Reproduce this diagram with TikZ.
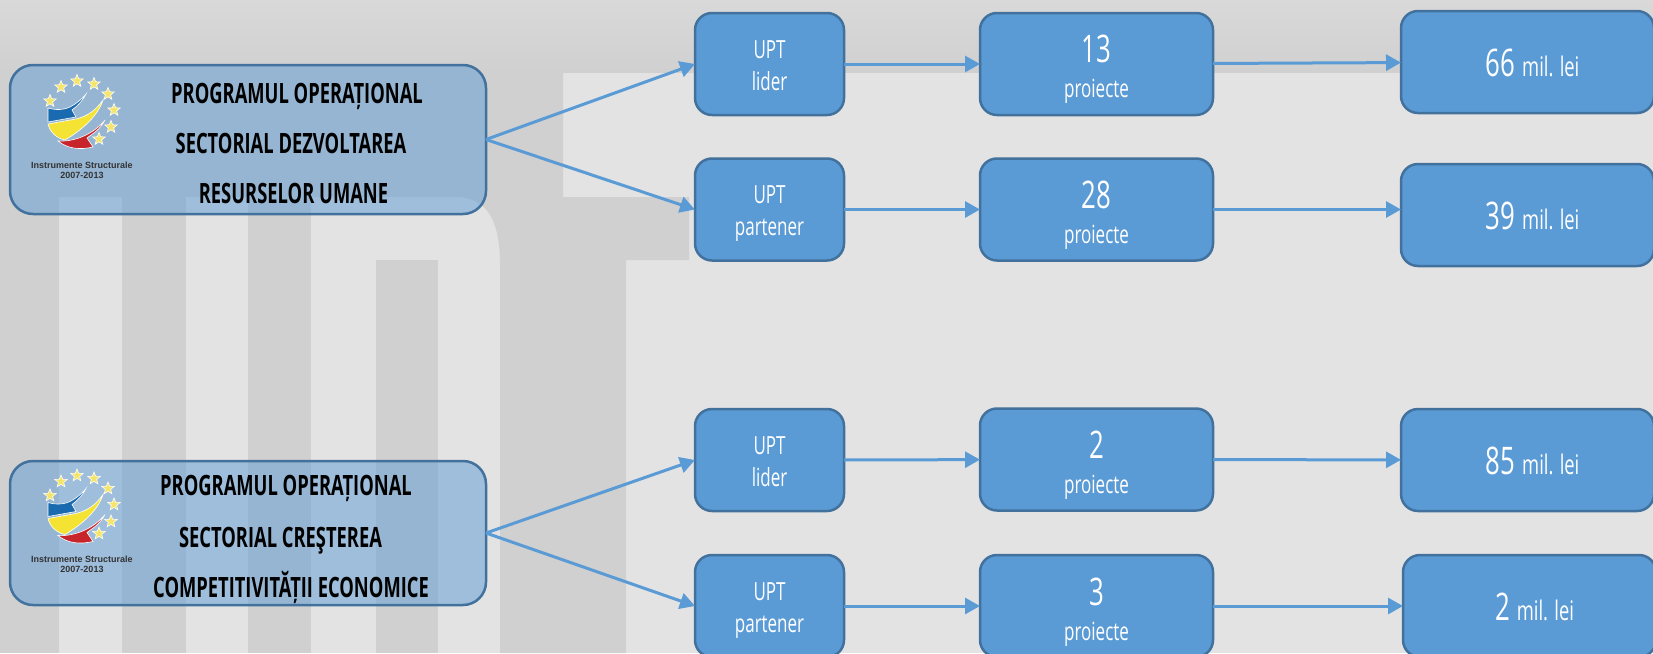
\documentclass[tikz,border=0pt]{standalone}
\usepackage{fontspec}
\setmainfont[FakeStretch=0.68]{Open Sans}
\newfontfamily\headfont[FakeStretch=0.655]{Open Sans}
\newfontfamily\logofont{Liberation Sans}
\usetikzlibrary{shapes.geometric,arrows.meta,positioning}

\definecolor{boxblue}{HTML}{5B9BD5}
\definecolor{boxline}{HTML}{41719C}
\definecolor{bglight}{HTML}{E3E3E3}
\definecolor{bgdark}{HTML}{D0D0D0}
\definecolor{logoblue}{HTML}{1A6AB0}
\definecolor{logoyellow}{HTML}{F4E333}
\definecolor{logored}{HTML}{C8242B}
\definecolor{logostarfill}{HTML}{F5E46A}

\newcommand{\upttext}[1]{\rule{0pt}{27pt}UPT\\#1\rule[-7pt]{0pt}{7pt}}
\newcommand{\nrtext}[1]{\rule{0pt}{39pt}{\fontsize{38}{38}\selectfont #1}\\proiecte}
\newcommand{\valtext}[1]{\rule{0pt}{29pt}\hspace*{10pt}{\fontsize{38}{38}\selectfont #1}\hspace{7pt}mil. lei}

\begin{document}
\begin{tikzpicture}[
    x=1pt, y=-1pt,
    node distance=136pt,
    program/.style={rectangle, draw=boxline, line width=2.5pt, fill=boxblue, fill opacity=0.5, text opacity=1, rounded corners=23pt, minimum width=476pt, outer sep=0pt},
    headline/.style={anchor=base, font=\headfont\bfseries\fontsize{28}{32}\selectfont, text=black, inner sep=0pt},
    upt/.style={rectangle, draw=boxline, line width=2.5pt, fill=boxblue, text=white, text centered, align=center, rounded corners=17pt, minimum width=149pt, minimum height=102pt, outer sep=0pt, font=\fontsize{25}{32}\selectfont},
    nr/.style={upt, minimum width=233pt, font=\fontsize{25}{35}\selectfont},
    val/.style={upt, minimum width=253pt, font=\fontsize{27}{32}\selectfont},
    arrow/.style={line width=3pt, draw=boxblue, ->, >={Triangle[length=15pt,width=16pt]}},
    logostar/.style={star, star points=5, star point ratio=2.3, minimum size=13pt, inner sep=0pt, fill=logostarfill, draw=white, line width=0.6pt},
    logo/.pic={
        % swooshes
        \fill[logoblue, draw=white, line width=0.6pt] (28,38) .. controls (38,41) and (46,39) .. (50,37) .. controls (56,34) and (62,29) .. (66,24) .. controls (62,32) and (56,37) .. (52,40) -- (56,47) -- (28,52) -- cycle;
        \fill[logoyellow, draw=white, line width=0.6pt] (28,54) -- (56,49) .. controls (68,46) and (76,40) .. (83,30) .. controls (78,46) and (62,60) .. (45,70) .. controls (36,68) and (30,62) .. (28,54) -- cycle;
        \fill[logored, draw=white, line width=0.6pt] (38,71) .. controls (52,72) and (72,66) .. (85,50) .. controls (80,60) and (72,64) .. (67,68) -- (73,77) .. controls (60,80) and (48,79) .. (38,71) -- cycle;
        % stars
        \foreach \p [count=\i] in {(30,31),(41,17),(57,11),(74,14),(88,24),(94,40),(91,57),(79,69)}
            \node[logostar] (star\i) at \p {};
        % caption
        \node[font=\logofont\bfseries\fontsize{9}{10}\selectfont, text=black!80, align=center, inner sep=0pt] (caption) at (62,100) {Instrumente Structurale\\2007-2013};
    }
]

\useasboundingbox (0,0) rectangle (1653,653);
\clip (0,0) rectangle (1653,653);

% Background
\fill[bglight] (0,0) rectangle (1653,653);
\shade[top color=black!15, bottom color=bgdark] (0,0) rectangle (1653,72);
\fill[bgdark] (0,72) -- (563,72) -- (563,197) -- (689,197) -- (689,260) -- (626,260) -- (626,653) -- (500,653) -- (500,265) .. controls (500,225) and (490,197) .. (455,197) -- (0,197) -- cycle;
\fill[bgdark] (0,197) rectangle (59,653);
\fill[bgdark] (122,197) rectangle (186,653);
\fill[bgdark] (248,197) rectangle (311,653);
\fill[bgdark] (376,260) rectangle (438,653);

% Programmes
\node[program, minimum height=149pt] (posdru) at (248,139.5) {};
\node[program, minimum height=144pt] (poscce) at (248,533) {};

\pic at (20,70) {logo};
\pic at (20,464.5) {logo};

\node[headline] (posdruA) at (297,103) {PROGRAMUL OPERAȚIONAL};
\node[headline] (posdruB) at (291,153) {SECTORIAL DEZVOLTAREA};
\node[headline] (posdruC) at (293.5,203) {RESURSELOR UMANE};

\node[headline] (poscceA) at (286,495) {PROGRAMUL OPERAȚIONAL};
\node[headline] (poscceB) at (280.5,547) {SECTORIAL CREŞTEREA};
\node[headline] (poscceC) at (291,597) {COMPETITIVITĂȚII ECONOMICE};

% UPT role
\node[upt] (lider1) at (769.5,64) {\upttext{lider}};
\node[upt] (partener1) at (769.5,209.5) {\upttext{partener}};
\node[upt] (lider2) at (769.5,460) {\upttext{lider}};
\node[upt] (partener2) at (769.5,606) {\upttext{partener}};

% Projects
\node[nr, right=of lider1] (nr1) {\nrtext{13}};
\node[nr, right=of partener1] (nr2) {\nrtext{28}};
\node[nr, right=of lider2, yshift=0.5pt] (nr3) {\nrtext{2}};
\node[nr, right=of partener2] (nr4) {\nrtext{3}};

% Values
\node[val, right=188pt of nr1, yshift=2pt] (val1) {\valtext{66}};
\node[val, right=188pt of nr2, yshift=-5.5pt] (val2) {\valtext{39}};
\node[val, right=188pt of nr3, yshift=-0.5pt] (val3) {\valtext{85}};
\node[val, right=190pt of nr4] (val4) {\valtext{2}};

% Arrows
\draw[arrow] (posdru.east) -- (lider1.west);
\draw[arrow] (posdru.east) -- (partener1.west);
\draw[arrow] (poscce.east) -- (lider2.west);
\draw[arrow] (poscce.east) -- (partener2.west);

\draw[arrow] (lider1) -- (nr1);
\draw[arrow] (partener1) -- (nr2);
\draw[arrow] (lider2) -- (nr3);
\draw[arrow] (partener2) -- (nr4);

\draw[arrow] (nr1) -- (val1);
\draw[arrow] (nr2) -- (val2.west |- nr2);
\draw[arrow] (nr3) -- (val3);
\draw[arrow] (nr4) -- (val4);

\end{tikzpicture}
\end{document}
